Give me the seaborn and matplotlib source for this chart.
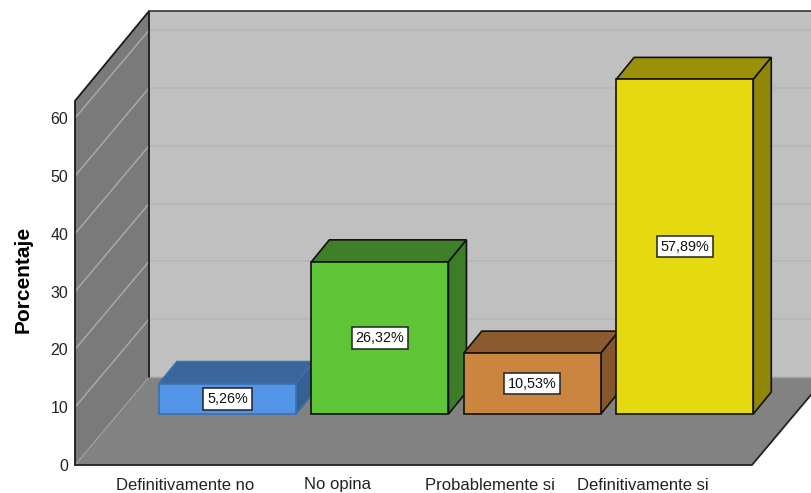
import pandas as pd
import matplotlib
matplotlib.use("Agg")
import matplotlib.pyplot as plt
import seaborn as sns
from matplotlib.patches import Polygon

# --- Datos ---
categorias = ["Definitivamente no", "No opina", "Probablemente si", "Definitivamente si"]
porcentajes = [5.26, 26.32, 10.53, 57.89]
etiquetas = ["5,26%", "26,32%", "10,53%", "57,89%"]
ticks_y = [0, 10, 20, 30, 40, 50, 60]

colores_frente = ["#5294E6", "#5EC636", "#CC853F", "#E5D90F"]
colores_arriba = ["#3B6699", "#3F7F28", "#8B5A2E", "#9B9108"]
colores_lado = ["#365F92", "#3E7D28", "#85562B", "#908708"]
colores_borde = ["#3A6FB0", "#111111", "#111111", "#111111"]

# --- Geometria (pixeles de la imagen) ---
W, H = 811, 493
PX_X = 152.4    # pixeles por categoria
PX_Y = 5.78     # pixeles por unidad de porcentaje
PISO_Y = 465
IZQ = 75
X0_ETIQ = 185.5  # centro de la primera etiqueta
X0_BARRA = 227.5 # centro de la primera barra
BASE_BARRA = 414

PROF_X = 74 / PX_X   # profundidad del grafico
PROF_Y = 88 / PX_Y
BARRA_X = 18 / PX_X  # profundidad de las barras
BARRA_Y = 22 / PX_Y
ALTO_PARED = 63.3
ALTO_IZQ = 63.0
ANCHO = 0.9

sns.set_theme(style="white")
plt.rcParams["font.family"] = ["Liberation Sans", "DejaVu Sans"]

fig = plt.figure(figsize=(W / 100, H / 100), dpi=100)
pos = [IZQ / W, (H - PISO_Y) / H, (W - IZQ) / W, PISO_Y / H]
ax = fig.add_axes(pos)
ax_b = fig.add_axes(pos, facecolor="none")

ax.set_xlim((IZQ - X0_ETIQ) / PX_X, (W - X0_ETIQ) / PX_X)
ax.set_ylim(0, PISO_Y / PX_Y)
x_izq = ax.get_xlim()[0]
x_fin = (752 - X0_ETIQ) / PX_X
x_der = ax.get_xlim()[1] + 1

# paredes y piso
ax.add_patch(Polygon([(x_izq + PROF_X, PROF_Y), (x_der, PROF_Y), (x_der, PROF_Y + ALTO_PARED),
                      (x_izq + PROF_X, PROF_Y + ALTO_PARED)], fc="#C0C0C0", ec="none", zorder=1))
ax.add_patch(Polygon([(x_izq, 0), (x_izq + PROF_X, PROF_Y), (x_izq + PROF_X, PROF_Y + ALTO_PARED),
                      (x_izq, ALTO_IZQ)], fc="#7A7A7A", ec="none", zorder=1))
ax.add_patch(Polygon([(x_izq, 0), (x_fin, 0), (x_fin + PROF_X, PROF_Y), (x_izq + PROF_X, PROF_Y)],
                     fc="#828282", ec="none", zorder=1))

# lineas de la grilla
for v in ticks_y[1:]:
    ax.plot([x_izq, x_izq + PROF_X], [v, v + PROF_Y], color="#A8A8A8", lw=1.1, zorder=2)
    ax.plot([x_izq + PROF_X, x_der], [v + PROF_Y, v + PROF_Y], color="#B6B6B6", lw=1.1, zorder=2)

# bordes
ax.plot([x_izq + PROF_X, x_der], [PROF_Y, PROF_Y], color="#A0A0A0", lw=1, zorder=2)
ax.plot([x_izq, x_izq + PROF_X], [0, PROF_Y], color="#B0B0B0", lw=0.8, ls=(0, (1, 1)), zorder=2)
ax.plot([x_izq, x_izq, x_izq + PROF_X, x_izq + PROF_X], [0, ALTO_IZQ, PROF_Y + ALTO_PARED, PROF_Y],
        color="#1A1A1A", lw=1.3, zorder=3, clip_on=False)
ax.plot([x_izq + PROF_X, x_der], [PROF_Y + ALTO_PARED] * 2, color="#333333", lw=1.2, zorder=3)
ax.plot([x_izq, x_fin, x_fin + PROF_X], [0, 0, PROF_Y], color="#222222", lw=1.3, zorder=3, clip_on=False)

# barras
df = pd.DataFrame({"categoria": categorias, "porcentaje": porcentajes})
sns.barplot(data=df, x="categoria", y="porcentaje", hue="categoria", order=categorias,
            hue_order=categorias, palette=colores_frente, saturation=1, width=ANCHO,
            dodge=False, legend=False, errorbar=None, ax=ax_b)
ax_b.set_xlim((IZQ - X0_BARRA) / PX_X, (W - X0_BARRA) / PX_X)
ax_b.set_ylim((BASE_BARRA - PISO_Y) / PX_Y, BASE_BARRA / PX_Y)

for i, valor in enumerate(porcentajes):
    x0, x1 = i - ANCHO / 2, i + ANCHO / 2
    zo = 3 + i * 2
    borde = colores_borde[i]
    lw = 1.2
    ax_b.add_patch(Polygon([(x0, valor), (x1, valor), (x1 + BARRA_X, valor + BARRA_Y), (x0 + BARRA_X, valor + BARRA_Y)],
                           fc=colores_arriba[i], ec=borde, lw=lw, zorder=zo))
    ax_b.add_patch(Polygon([(x1, 0), (x1 + BARRA_X, BARRA_Y), (x1 + BARRA_X, valor + BARRA_Y), (x1, valor)],
                           fc=colores_lado[i], ec=borde, lw=lw, zorder=zo))
    ax_b.text(i, valor / 2, etiquetas[i], ha="center", va="center", fontsize=10.4, color="#111111", zorder=20,
              bbox=dict(boxstyle="square,pad=0.26", fc="white", ec="#222222", lw=1.1))

for i, barra in enumerate(ax_b.patches[:len(porcentajes)]):
    barra.set_edgecolor(colores_borde[i])
    barra.set_linewidth(1.2)
    barra.set_zorder(4 + i * 2)

ax_b.set_axis_off()

# ejes
ax.set_xticks(range(len(categorias)))
ax.set_xticklabels(categorias, fontsize=12, color="#222222")
ax.set_yticks(ticks_y)
ax.set_yticklabels(ticks_y, fontsize=11.5, color="#222222")
ax.tick_params(axis="both", length=0)
ax.tick_params(axis="x", pad=9)
ax.tick_params(axis="y", pad=5)
ax.set_ylabel("Porcentaje", fontsize=15, fontweight="bold", color="black")
ax.yaxis.set_label_coords((33 - IZQ) / (W - IZQ), (PISO_Y - 279) / PISO_Y)
ax.set_xlabel("")
sns.despine(ax=ax, left=True, bottom=True)

fig.savefig("out.png", dpi=100)
